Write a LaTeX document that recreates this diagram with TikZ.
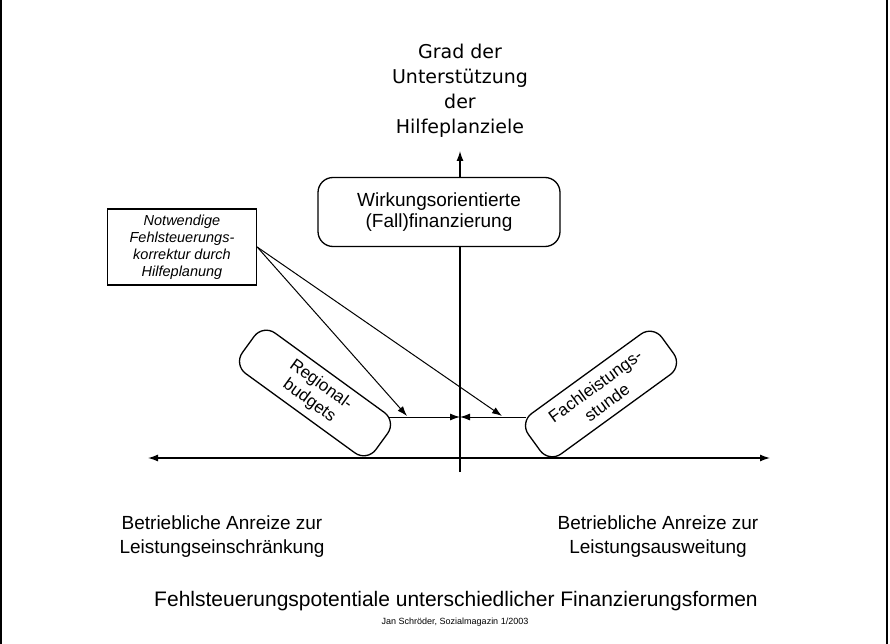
\documentclass[tikz,border=0pt]{standalone}
\usepackage{fontspec}
\setmainfont{Liberation Sans}
\newfontfamily\gradfont{DejaVu Sans}
\usetikzlibrary{arrows.meta}

\tikzset{
	rbox/.style={draw, line width=1.3pt, rounded corners=15pt, fill=white, align=center, inner sep=2pt},
	slantbox/.style={rbox, minimum width=165pt, minimum height=50pt, font=\fontsize{17}{20}\selectfont},
	axlabel/.style={align=center, font=\fontsize{19}{24}\selectfont}
}

\begin{document}
\begin{tikzpicture}[x=1pt,y=-1pt,>={Latex[length=10pt,width=7pt]}]
		\useasboundingbox (0,0) rectangle (890,644);
		\draw [line width=2pt] (1,0) -- (1,644);
		\draw [line width=2pt] (887,0) -- (887,644);
		\coordinate (ytop) at (460,151);
		\coordinate (ybot) at (460,472);
		\coordinate (xl) at (148,458);
		\coordinate (xr) at (770,458);
		\coordinate (mid) at (460,417);
		\coordinate (rtip) at (407,416);
		\coordinate (ftip) at (502,416);
		\draw [->, line width=1.3pt] (ybot) -- (ytop);
		\draw [<->, line width=1.3pt] (xl) -- (xr);
		\node [align=center, font=\gradfont\fontsize{19}{25}\selectfont] (grad) at (460,91) {Grad der\\Unterstützung\\der\\Hilfeplanziele};
		\node [rbox, minimum width=242pt, minimum height=69pt, font=\fontsize{19}{21}\selectfont] (wirk) at (439,212) {Wirkungsorientierte\\(Fall)finanzierung};
		\node [draw, line width=1.3pt, fill=white, minimum width=149pt, minimum height=76pt, align=center, font=\itshape\fontsize{14.5}{17}\selectfont] (note) at (182,247) {Notwendige\\Fehlsteuerungs-\\korrektur durch\\Hilfeplanung};
		\node [slantbox, rotate=-36] (regio) at (315,393) {Regional-\\budgets};
		\node [slantbox, rotate=36] (fach) at (601,394) {Fachleistungs-\\stunde};
		\draw [->, line width=1pt, shorten <=-8pt] (regio.north east |- mid) -- (mid);
		\draw [->, line width=1pt, shorten <=-7pt] (fach.north west |- mid) -- (mid);
		\draw [->, line width=1pt] (note.east) -- (rtip);
		\draw [->, line width=1pt] (note.east) -- (ftip);
		\node [axlabel] (lrest) at (222,537) {Betriebliche Anreize zur\\Leistungseinschränkung};
		\node [axlabel] (lexp) at (658,537) {Betriebliche Anreize zur\\Leistungsausweitung};
		\node [font=\fontsize{21}{24}\selectfont] (capt) at (456,601) {Fehlsteuerungspotentiale unterschiedlicher Finanzierungsformen};
		\node [font=\fontsize{9}{11}\selectfont] (cred) at (455,622) {Jan Schröder, Sozialmagazin 1/2003};
\end{tikzpicture}
\end{document}
